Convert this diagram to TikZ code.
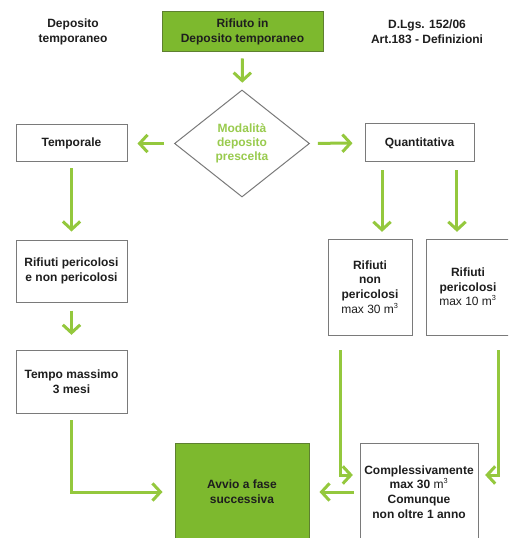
\documentclass[tikz,border=0pt]{standalone}
\usepackage{fontspec}
\setmainfont{Liberation Sans}
\usetikzlibrary{shapes.geometric,arrows.meta}

\definecolor{boxgreen}{HTML}{7DB92E}
\definecolor{boxgreenline}{HTML}{5E8030}
\definecolor{arrgreen}{HTML}{94C83D}
\definecolor{diatext}{HTML}{99CB4E}
\definecolor{boxgrey}{HTML}{7A7A7A}
\definecolor{txtdark}{HTML}{1E1E1E}

\newcommand{\cubem}{m\textsuperscript{\fontsize{5.5}{6}\selectfont 3}}

\tikzset{every picture/.style={line width=0.75pt}}
\tikzset{
  wbox/.style={draw=boxgrey, fill=white, inner sep=2pt, align=center, text=txtdark,
    font=\fontsize{9}{11}\selectfont\bfseries},
  gbox/.style={wbox, draw=boxgreenline, fill=boxgreen},
  arr/.style={draw=arrgreen, line width=2.25pt, -{Straight Barb[length=6pt,width=13pt,line width=2.25pt]}},
}

\begin{document}
\begin{tikzpicture}[x=0.75pt,y=0.75pt,yscale=-1,xscale=1]
	\clip (0,0) rectangle (508,538);
	\fill[white] (0,0) rectangle (508,538);
	
	%Shape: Rectangle [id:top] 
	\node (top) at (242.5,32) [gbox, minimum width=120.75pt, minimum height=30pt] {Rifiuto in\\Deposito temporaneo};
	% Text Node
	\node (deptemp) at (73,32) [align=center, text=txtdark, font=\fontsize{9}{11}\selectfont\bfseries] {Deposito\\temporaneo};
	% Text Node
	\node (dlgs) at (427,32) [align=center, text=txtdark, font=\fontsize{9}{11}\selectfont\bfseries] {D.Lgs. 152/06\\Art.183 - Definizioni};
	
	%Shape: Diamond [id:dia] 
	\node (dia) at (242,143.5) [diamond, draw=boxgrey, inner sep=0pt, aspect=1.26, minimum width=101.25pt, minimum height=80.25pt,
	  align=center, text=diatext, font=\fontsize{9}{10.5}\selectfont\bfseries] {Modalità\\deposito\\prescelta};
	
	%Shape: Rectangle [id:temporale] 
	\node (temporale) at (71.5,143.5) [wbox, minimum width=83.25pt, minimum height=27.75pt] {Temporale};
	%Shape: Rectangle [id:quant] 
	\node (quant) at (419.5,143) [wbox, minimum width=81.75pt, minimum height=28.5pt] {Quantitativa};
	%Shape: Rectangle [id:rifper] 
	\node (rifper) at (71.5,271) [wbox, minimum width=83.25pt, minimum height=46.5pt] {Rifiuti pericolosi\\e non pericolosi};
	%Shape: Rectangle [id:tempo] 
	\node (tempo) at (71.5,381.5) [wbox, minimum width=83.25pt, minimum height=47.25pt] {Tempo massimo\\3 mesi};
	%Shape: Rectangle [id:nonper] 
	\node (nonper) at (370,287) [wbox, minimum width=63pt, minimum height=72pt] {Rifiuti\\non\\pericolosi\\{\mdseries max 30 \cubem}};
	%Shape: Rectangle [id:per] 
	\node (per) at (468,287) [wbox, minimum width=63pt, minimum height=72pt] {Rifiuti\\pericolosi\\{\mdseries max 10 \cubem}};
	%Shape: Rectangle [id:avvio] 
	\node (avvio) at (242,492) [gbox, minimum width=100.5pt, minimum height=73.5pt] {Avvio a fase\\successiva};
	%Shape: Rectangle [id:compl] 
	\node (compl) at (419,492) [wbox, minimum width=88.5pt, minimum height=73.5pt] {Complessivamente\\max 30 {\mdseries\cubem}\\Comunque\\non oltre 1 anno};
	
	%Straight Lines [id:a1] 
	\draw [arr, shorten <=4.5pt, shorten >=5.25pt] (top) -- (dia);
	%Straight Lines [id:a2] 
	\draw [arr, shorten <=7.5pt, shorten >=7.5pt] (dia) -- (temporale);
	%Straight Lines [id:a3] 
	\draw [arr, shorten <=6pt, shorten >=9pt] (dia) -- (quant);
	%Straight Lines [id:a4] 
	\draw [arr, shorten <=4.5pt, shorten >=6pt] (temporale) -- (rifper);
	%Straight Lines [id:a5] 
	\draw [arr, shorten <=6pt, shorten >=11pt] (rifper) -- (tempo);
	%Straight Lines [id:a6] 
	\draw [arr, shorten <=6pt, shorten >=5pt] ([xshift=-28.1pt]quant.south) -- ([xshift=-28.1pt]quant.south |- nonper.north);
	%Straight Lines [id:a7] 
	\draw [arr, shorten <=6pt, shorten >=5pt] ([xshift=28.1pt]quant.south) -- ([xshift=28.1pt]quant.south |- per.north);
	%Elbow Lines [id:a8] 
	\draw [arr, shorten <=5pt, shorten >=9pt] (tempo.south) |- (avvio.west);
	%Elbow Lines [id:a9] 
	\draw [arr, shorten <=11pt, shorten >=5pt] ([xshift=-22.5pt]nonper.south) |- ([yshift=-12.75pt]compl.west);
	%Elbow Lines [id:a10] 
	\draw [arr, shorten <=11pt, shorten >=5pt] ([xshift=22.5pt]per.south) |- ([yshift=-12.75pt]compl.east);
	%Straight Lines [id:a11] 
	\draw [arr, shorten <=4.5pt, shorten >=7.5pt] (compl) -- (avvio);
	
\end{tikzpicture}
\end{document}
